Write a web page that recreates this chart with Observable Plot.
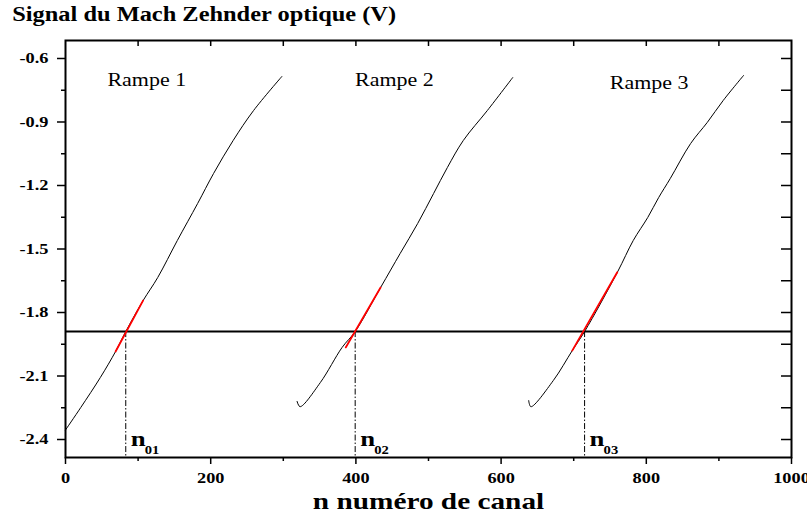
<!DOCTYPE html>
<html>
<head>
<meta charset="utf-8">
<script src="https://cdn.jsdelivr.net/npm/d3@7"></script>
<script src="https://cdn.jsdelivr.net/npm/@observablehq/plot@0.6"></script>
<style>
  body { margin: 0; background: #fff; }
  #title { height: 30px; box-sizing: border-box; padding-top: 4px; padding-left: 10px;
    font: bold 20px "Liberation Serif", "Times New Roman", serif; line-height: 20px;
    transform-origin: 0 0; transform: scaleX(1.22); white-space: nowrap; color: #000; }
</style>
</head>
<body>
<div id="title">Signal du Mach Zehnder optique (V)</div>
<div id="chart"></div>
<script>
// ---- data ----
const ramp1X = [0, 21, 48, 69, 83, 107, 127, 154, 182, 204, 231, 259, 298];
const ramp1Y = [-2.355, -2.249, -2.107, -1.984, -1.89, -1.743, -1.635, -1.46, -1.285, -1.143, -0.987, -0.846, -0.685];
const ramp2X = [319, 323, 351, 381, 399, 434, 461, 485, 507, 526, 548, 581, 616];
const ramp2Y = [-2.22, -2.245, -2.131, -1.965, -1.89, -1.682, -1.521, -1.38, -1.238, -1.115, -0.987, -0.846, -0.69];
const ramp3X = [638, 641, 672, 698, 715, 760, 782, 802, 817, 833, 861, 884, 906, 934];
const ramp3Y = [-2.216, -2.245, -2.121, -1.98, -1.89, -1.611, -1.46, -1.351, -1.257, -1.167, -1.002, -0.902, -0.798, -0.68];
const redX = [[69, 107], [386, 434], [698, 760]];
const redY = [[-1.984, -1.743], [-1.965, -1.682], [-1.98, -1.61]];
const threshold = -1.89;
const crossings = [83, 399, 715];
const crossingLabels = ["01", "02", "03"];
const rampeNames = ["Rampe 1", "Rampe 2", "Rampe 3"];
const rampeX = [112, 453, 804];
const rampeY = [-0.705, -0.705, -0.715];
const yMajor = [-0.6, -0.9, -1.2, -1.5, -1.8, -2.1, -2.4];
const yMinor = [-0.75, -1.05, -1.35, -1.65, -1.95, -2.25];
const xMajor = [0, 200, 400, 600, 800, 1000];
const xMinor = [100, 300, 500, 700, 900];
const xTitle = "n numéro de canal";
const yDomain = [-2.485, -0.515];
const xDomain = [0, 1000];

// ---- tables built from arrays ----
const ramps = [[ramp1X, ramp1Y], [ramp2X, ramp2Y], [ramp3X, ramp3Y]]
  .flatMap(([xs, ys], i) => xs.map((x, j) => ({ramp: i, x, y: ys[j]})));
const reds = redX.flatMap((xs, i) => xs.map((x, j) => ({ramp: i, x, y: redY[i][j]})));
const nLabels = crossings.map((x, i) => ({x, sub: crossingLabels[i]}));
const rampeLabels = rampeNames.map((t, i) => ({t, x: rampeX[i], y: rampeY[i]}));

const W = 807, H = 488, mL = 65, mR = 16, mT = 10, mB = 61;
const fw = W - mL - mR, fh = H - mT - mB;
const serif = "Liberation Serif, Times New Roman, serif";

const svg = Plot.plot({
  width: W, height: H,
  marginLeft: mL, marginRight: mR, marginTop: mT, marginBottom: mB,
  style: {background: "white", color: "black", fontFamily: serif},
  x: {domain: xDomain, label: null},
  y: {domain: yDomain, label: null},
  marks: [
    // left axis
    Plot.axisY({ticks: yMajor, tickSize: 8, tickPadding: 9, tickFormat: d => d.toFixed(1),
      fontSize: 15, fontWeight: "bold", strokeWidth: 1.5, label: null}),
    Plot.tickY(yMinor, {y: d => d, insetLeft: -4, insetRight: fw, strokeWidth: 1.5}),
    // bottom axis
    Plot.axisX({ticks: xMajor, tickSize: 7, tickPadding: 8, tickFormat: d => String(d),
      fontSize: 15, fontWeight: "bold", strokeWidth: 1.5, label: null}),
    Plot.tickX(xMinor, {x: d => d, insetTop: fh, insetBottom: -4, strokeWidth: 1.5}),
    // mirrored inward ticks (right and top)
    Plot.tickY([...yMajor, ...yMinor], {y: d => d, insetLeft: fw - 10, strokeWidth: 1.5}),
    Plot.tickX([...xMajor, ...xMinor].filter(d => d > 0 && d < 1000), {x: d => d, insetBottom: fh - 6, strokeWidth: 1.5}),
    Plot.frame({strokeWidth: 2}),
    // threshold and crossings
    Plot.ruleY([threshold], {y: d => d, strokeWidth: 2}),
    Plot.ruleX(crossings, {x: d => d, y1: threshold, y2: yDomain[0], strokeWidth: 1, strokeDasharray: "6,2,1.5,2"}),
    // ramps
    Plot.line(ramps, {x: "x", y: "y", z: "ramp", curve: "catmull-rom", stroke: "black", strokeWidth: 1}),
    Plot.line(reds, {x: "x", y: "y", z: "ramp", stroke: "#ff0000", strokeWidth: 1.8}),
    // labels
    Plot.text(rampeLabels, {x: "x", y: "y", text: "t", fontSize: 18, textAnchor: "middle", lineAnchor: "middle"}),
    Plot.text(nLabels, {x: "x", text: () => "n", frameAnchor: "bottom", dy: -12, dx: 5,
      textAnchor: "start", lineAnchor: "bottom", fontSize: 22, fontWeight: "bold"}),
    Plot.text(nLabels, {x: "x", text: "sub", frameAnchor: "bottom", dy: -4, dx: 19,
      textAnchor: "start", lineAnchor: "bottom", fontSize: 12, fontWeight: "bold"}),
    Plot.text([xTitle], {text: d => d, frameAnchor: "bottom", dy: 51, lineAnchor: "bottom",
      fontSize: 24, fontWeight: "bold"})
  ]
});
document.getElementById("chart").appendChild(svg);
// the reference's lettering is horizontally widened
svg.querySelectorAll("text").forEach(el => {
  const len = el.getComputedTextLength();
  if (len > 0) {
    el.setAttribute("textLength", (len * 1.22).toFixed(1));
    el.setAttribute("lengthAdjust", "spacingAndGlyphs");
  }
});
</script>
</body>
</html>
